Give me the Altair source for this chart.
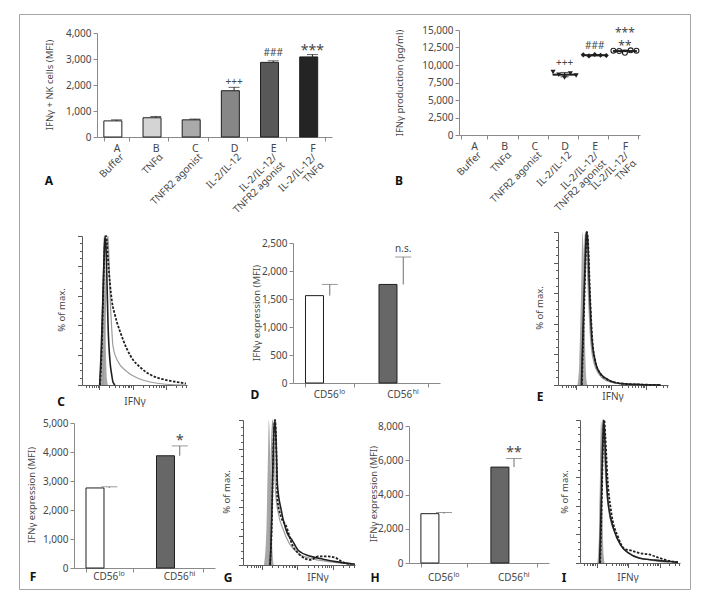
import altair as alt
import pandas as pd

FONT = "Noto Sans"
AXC = "#8a8a8a"
HAX = "#5a5a5a"
LBC = "#474747"
INK = "#1f1f1f"
ERRC = "#6e6e6e"
BORDER = "#a4a4a4"
ISO = "#a8a8a8"
GRAYLINE = "#9d9d9d"

# ---------------- Panel A ----------------
a_cat = ["A", "B", "C", "D", "E", "F"]
a_lab = ["Buffer", "TNFα", "TNFR2 agonist", "IL-2/IL-12",
         "IL-2/IL-12/\nTNFR2 agonist", "IL-2/IL-12/\nTNFα"]
a_mean = [620, 740, 660, 1780, 2870, 3080]
a_err = [40, 50, 30, 130, 60, 90]
a_fill = ["#ffffff", "#d4d4d4", "#aaaaaa", "#878787", "#585858", "#242424"]
a_sig = ["", "", "", "+++", "###", "***"]
a_sig_at = [0, 0, 0, 2130, 3250, 3440]
a_yticks = [0, 1000, 2000, 3000, 4000]

# ---------------- Panel B ----------------
b_grp = ["D"] * 5 + ["E"] * 5 + ["F"] * 5
b_rep = [0, 1, 2, 3, 4] * 3
b_val = [9000, 8600, 8200, 8800, 8500,
         11450, 11300, 11500, 11400, 11350,
         12050, 12000, 11750, 12100, 12050]
b_sig_cat = ["D", "E", "F", "F"]
b_sig = ["+++", "###", "**", "***"]
b_sig_at = [10300, 12700, 13150, 14950]
b_yticks = [0, 2500, 5000, 7500, 10000, 12500, 15000]

# ---------------- two-bar panels D, F, H ----------------
cd_grp = ["lo", "hi"]
cd_base = ["CD56", "CD56"]
cd_sup = ["lo", "hi"]
two_fill = ["#ffffff", "#676767"]
d_mean = [1560, 1760]
d_err = [200, 490]
d_sig = ["", "n.s."]
d_sig_at = [0, 2400]
d_yticks = [0, 500, 1000, 1500, 2000, 2500]
f_mean = [2760, 3870]
f_err = [40, 340]
f_sig = ["", "*"]
f_sig_at = [0, 4480]
f_yticks = [0, 1000, 2000, 3000, 4000, 5000]
h_mean = [2880, 5600]
h_err = [70, 500]
h_sig = ["", "**"]
h_sig_at = [0, 6600]
h_yticks = [0, 2000, 4000, 6000, 8000]

# ---------------- histogram axes ----------------
hx_domain = [3, 4300]
hx_major = [10, 100, 1000]
hx_minor = [4, 5, 6, 7, 8, 9, 20, 30, 40, 50, 60, 70, 80, 90,
            200, 300, 400, 500, 600, 700, 800, 900, 2000, 3000, 4000]
hy_major = [0, 20, 40, 60, 80, 100]
hy_minor = [5, 10, 15, 25, 30, 35, 45, 50, 55, 65, 70, 75, 85, 90, 95]

# ---------------- histogram curves (IFNγ, % of max.) ----------------
c_iso_x = [10.4, 11.2, 12.0, 12.8, 13.5, 14.2, 14.7, 15.8, 16.9, 18.1]
c_iso_y = [0, 10, 40, 80, 100, 85, 60, 20, 4, 0]
c_gray_x = [12.8, 13.7, 14.7, 15.8, 16.9, 18.1, 19.4, 20.8, 23.9, 25.6, 33.8, 67.6, 166, 332, 1000, 4000]
c_gray_y = [0, 15, 40, 70, 92, 100, 85, 62, 35, 26, 17, 9, 4, 2, 0.5, 0]
c_dash_x = [10.4, 11.2, 12.0, 12.8, 13.7, 14.7, 15.8, 16.9, 18.1, 20.8, 23.9, 29.4, 33.8, 41.6,
            67.6, 102, 166, 332, 538, 937, 2150, 4000]
c_dash_y = [0, 12, 30, 55, 80, 96, 100, 95, 85, 68, 56, 47, 42, 36, 24, 17, 12, 7, 5, 3.5, 2, 1]
c_solid_x = [10.2, 11.2, 12.0, 12.8, 13.7, 14.7, 15.8, 16.9, 18.1, 20.8, 23.4, 25.6, 29.4]
c_solid_y = [0, 20, 40, 60, 82, 100, 92, 70, 42, 16, 7, 2, 0]

e_iso_x = [10.8, 12.3, 13.6, 15.1, 16.1, 17.3, 18.5, 19.7, 21.1]
e_iso_y = [0, 15, 55, 100, 90, 45, 15, 3, 0]
e_gray_x = [13.5, 15.1, 17.3, 18.5, 19.7, 22.5, 26, 32, 45, 72, 180, 700]
e_gray_y = [0, 40, 88, 100, 92, 58, 30, 15, 7, 3, 0.8, 0]
e_dash_x = [14.5, 16.6, 19, 20.3, 21.8, 24.8, 28.5, 35, 49, 78, 190, 700, 2680]
e_dash_y = [0, 45, 88, 100, 94, 60, 32, 16, 7.5, 3.5, 1, 0.3, 0]
e_solid_x = [14.1, 16.1, 18.5, 19.7, 21.1, 24.1, 27.6, 33.8, 47.3, 75.8, 182, 698, 2680]
e_solid_y = [0, 45, 88, 100, 96, 62, 33, 17, 8, 4, 1, 0.3, 0]

g_iso_x = [11.7, 13.7, 15.0, 16.0, 17.4, 18.8, 20.5, 22.1]
g_iso_y = [0, 25, 70, 100, 80, 35, 8, 0]
g_gray_x = [16.0, 17.4, 19.0, 20.5, 22.1, 25, 30, 40, 60, 109, 300, 1000, 4300]
g_gray_y = [0, 30, 80, 100, 85, 50, 35, 25, 15, 8, 4, 2, 0.5]
g_dash_x = [17.4, 19.5, 21, 22.5, 24, 25.5, 28.1, 35.7, 49.1, 73.1, 109, 242, 391, 684, 1196, 1933, 3383]
g_dash_y = [0, 30, 70, 95, 100, 90, 45, 33, 27, 14, 8, 3.5, 6, 6, 5, 2, 0.5]
g_solid_x = [17.4, 18.8, 20.5, 22.1, 23.9, 26, 28.1, 35.7, 53.1, 73.1, 109, 242, 539, 1521, 4300]
g_solid_y = [0, 20, 60, 90, 100, 80, 55, 38, 22, 17, 10, 6, 4, 2, 0.5]

i_iso_x = [10.7, 12.0, 13.0, 13.8, 14.5, 15.5, 16.8, 18.0]
i_iso_y = [0, 20, 70, 100, 80, 30, 5, 0]
i_gray_x = [12.0, 13.4, 14.5, 15.5, 17.0, 20, 25, 40, 70, 150, 500, 2000]
i_gray_y = [0, 50, 90, 100, 85, 55, 35, 20, 10, 5, 2, 0.5]
i_dash_x = [13.0, 14.5, 16.0, 17.5, 19.0, 22.0, 28.4, 48.0, 75.2, 127, 215, 454, 961, 2032, 3700]
i_dash_y = [0, 40, 85, 100, 88, 60, 37, 18, 10, 8.6, 7, 6, 3.5, 1.4, 0.7]
i_solid_x = [12.5, 14.0, 15.5, 16.8, 18.0, 19.5, 22.7, 35.6, 60.1, 101, 215, 711, 2032, 3700]
i_solid_y = [0, 40, 80, 100, 90, 70, 44, 23, 12, 7, 3.5, 2, 1, 0.5]

# ---------------- layout: whole figure is one framed view ----------------
W_ALL, H_ALL = 671, 575
# plot rectangles in view pixels: (x0, x1, ytop, ybottom)
GEO = {
    "A": (78, 313, 19, 123),
    "B": (440, 621, 16, 121),
    "C": (63, 168, 222, 371),
    "D": (274, 421, 229, 369),
    "E": (539, 649, 218, 371),
    "F": (55, 196, 409, 554),
    "G": (224, 336, 406, 551),
    "H": (390, 530, 412, 549),
    "I": (561, 661, 406, 549),
}
# text anchors in view pixels: y-title (x, y), panel letter (x, y), x-title / category label (x, y)
TPOS = {
    "A": ((31, 71), (30, 167), None),
    "B": ((381, 69), (380, 167), None),
    "C": ((43, 296), (42, 388), (116, 388)),
    "D": ((238, 299), (236, 381), (None, 381)),
    "E": ((521, 294), (521, 383), (594, 383)),
    "F": ((13, 481), (14, 563), (None, 563)),
    "G": ((208, 478), (209, 564), (299, 564)),
    "H": ((355, 480), (356, 564), (None, 564)),
    "I": ((546, 478), (545, 564), (609, 564)),
}

ONE = pd.DataFrame({"k": [0]})


def txt(text, xy, size=9.5, angle=0, weight="normal", color=LBC):
    return alt.Chart(ONE).mark_text(
        text=text, fontSize=size, angle=angle, fontWeight=weight, color=color,
        align="center", baseline="middle", font=FONT
    ).encode(x=alt.value(xy[0]), y=alt.value(xy[1]))


def letter(key):
    return txt(key, TPOS[key][1], size=12, weight="bold", color="#111111")


def yaxis(vals, x0):
    return alt.Axis(orient="left", offset=-x0, values=vals, format=",.0f", title=None, tickSize=4,
                    labelPadding=2, labelFontSize=10, labelColor=LBC, domainColor=AXC,
                    tickColor=AXC, grid=False)


def band_axis(labels, ybot):
    return alt.Axis(orient="bottom", offset=ybot - H_ALL, title=None, tickBand="extent",
                    labels=labels, labelAngle=0, tickSize=4, labelPadding=2, labelFontSize=10.5,
                    labelColor=LBC, domainColor=AXC, tickColor=AXC, grid=False)


def rotated_labels(df, X, ybot):
    one = df[~df["two"]]
    two = df[df["two"]]
    l1 = alt.Chart(one).mark_text(angle=315, align="right", baseline="top", fontSize=10,
                                  color=LBC, dx=3).encode(x=X, y=alt.value(ybot + 17), text="lab:N")
    l2 = alt.Chart(two).mark_text(angle=315, align="right", baseline="top", fontSize=10,
                                  color=LBC, lineBreak="\n", lineHeight=11, dx=-2).encode(
        x=X, y=alt.value(ybot + 14), text="lab:N")
    return [l1, l2]


# ---------------- Panel A ----------------
def panel_A():
    x0, x1, yt, yb = GEO["A"]
    df = pd.DataFrame({"cat": a_cat, "lab": a_lab, "m": a_mean, "e": a_err,
                       "sig": a_sig, "sy": a_sig_at})
    df["top"] = df["m"] + df["e"]
    df["two"] = df["lab"].str.contains("\n")
    xs = alt.Scale(domain=a_cat, range=[x0, x1], paddingInner=0.35, paddingOuter=0.175)
    X = alt.X("cat:N", scale=xs, axis=band_axis(True, yb))
    ys = alt.Scale(domain=[0, 4000], range=[yb, yt], nice=False)
    yax = yaxis(a_yticks, x0)
    base = alt.Chart(df)
    bars = base.mark_bar(stroke=INK, strokeWidth=1).encode(
        x=X, y=alt.Y("m:Q", scale=ys, axis=yax),
        fill=alt.Fill("cat:N", scale=alt.Scale(domain=a_cat, range=a_fill), legend=None))
    err = base.mark_rule(color=INK, strokeWidth=1).encode(
        x=X, y=alt.Y("m:Q", scale=ys, axis=yax), y2="top:Q")
    cap = base.mark_tick(color=INK, thickness=1, size=11).encode(
        x=X, y=alt.Y("top:Q", scale=ys, axis=yax))
    sig1 = base.transform_filter("datum.sig == '+++' || datum.sig == '###'").mark_text(
        fontSize=10, color=LBC).encode(x=X, y=alt.Y("sy:Q", scale=ys, axis=yax), text="sig:N")
    sig2 = base.transform_filter("datum.sig == '***'").mark_text(
        fontSize=14, color=LBC, dy=3).encode(x=X, y=alt.Y("sy:Q", scale=ys, axis=yax), text="sig:N")
    layers = [bars, err, cap, sig1, sig2] + rotated_labels(df, X, yb) + [
        txt("IFNγ + NK cells (MFI)", TPOS["A"][0], angle=270), letter("A")]
    return alt.layer(*layers)


# ---------------- Panel B ----------------
def panel_B():
    x0, x1, yt, yb = GEO["B"]
    df = pd.DataFrame({"cat": b_grp, "i": b_rep, "val": b_val})
    labdf = pd.DataFrame({"cat": a_cat, "lab": a_lab})
    labdf["two"] = labdf["lab"].str.contains("\n")
    sigdf = pd.DataFrame({"cat": b_sig_cat, "sig": b_sig, "sy": b_sig_at})
    xs = alt.Scale(domain=a_cat, range=[x0, x1], paddingInner=0.12, paddingOuter=0.06)
    X = alt.X("cat:N", scale=xs, axis=band_axis(True, yb))
    ys = alt.Scale(domain=[0, 15000], range=[yb, yt], nice=False)
    yax = yaxis(b_yticks, x0)
    Y = alt.Y("val:Q", scale=ys, axis=yax)
    XO = alt.XOffset("i:O", scale=alt.Scale(paddingOuter=0.3))
    base = alt.Chart(df)
    tri = base.transform_filter(alt.datum.cat == "D").mark_point(
        shape="triangle-down", filled=True, color=INK, size=26, opacity=1).encode(x=X, xOffset=XO, y=Y)
    dia = base.transform_filter(alt.datum.cat == "E").mark_point(
        shape="diamond", filled=True, color=INK, size=26, opacity=1).encode(x=X, xOffset=XO, y=Y)
    cir = base.transform_filter(alt.datum.cat == "F").mark_point(
        shape="circle", filled=True, fill="#ffffff", stroke=INK, strokeWidth=1.1, size=24,
        opacity=1).encode(x=X, xOffset=XO, y=Y)
    eb = base.mark_errorbar(extent="stdev", ticks={"size": 8}, color=INK, thickness=1.2).encode(x=X, y=Y)
    mean = base.mark_tick(color=INK, thickness=2, size=24).encode(
        x=X, y=alt.Y("mean(val):Q", scale=ys, axis=yax))
    s = alt.Chart(sigdf)
    sig1 = s.transform_filter("datum.sig == '+++' || datum.sig == '###'").mark_text(
        fontSize=10, color=LBC).encode(x=X, y=alt.Y("sy:Q", scale=ys, axis=yax), text="sig:N")
    sig2 = s.transform_filter("datum.sig == '**' || datum.sig == '***'").mark_text(
        fontSize=12, color=LBC, dy=3).encode(x=X, y=alt.Y("sy:Q", scale=ys, axis=yax), text="sig:N")
    layers = [eb, tri, dia, cir, mean, sig1, sig2] + rotated_labels(labdf, X, yb) + [
        txt("IFNγ production (pg/ml)", TPOS["B"][0], angle=270), letter("B")]
    return alt.layer(*layers)


# ---------------- two-bar panels ----------------
def panel_two(key, mean, err, ymax, yticks, sig, sig_at):
    x0, x1, yt, yb = GEO[key]
    lab_y = TPOS[key][2][1]
    df = pd.DataFrame({"g": cd_grp, "m": mean, "e": err, "base": cd_base, "sup": cd_sup,
                       "sig": sig, "sy": sig_at})
    df["top"] = df["m"] + df["e"]
    xs = alt.Scale(domain=cd_grp, range=[x0, x1], paddingInner=0.34, paddingOuter=0.17)
    X = alt.X("g:N", scale=xs, axis=band_axis(False, yb))
    ys = alt.Scale(domain=[0, ymax], range=[yb, yt], nice=False)
    yax = yaxis(yticks, x0)
    base = alt.Chart(df)
    bars = base.mark_bar(stroke=INK, strokeWidth=1).encode(
        x=X, y=alt.Y("m:Q", scale=ys, axis=yax),
        fill=alt.Fill("g:N", scale=alt.Scale(domain=cd_grp, range=two_fill), legend=None))
    erule = base.mark_rule(color=ERRC, strokeWidth=1).encode(
        x=X, y=alt.Y("m:Q", scale=ys, axis=yax), y2="top:Q")
    cap = base.mark_tick(color=ERRC, thickness=1, size=16).encode(
        x=X, y=alt.Y("top:Q", scale=ys, axis=yax))
    sig_ns = base.transform_filter("datum.sig == 'n.s.'").mark_text(
        fontSize=10, color=LBC).encode(x=X, y=alt.Y("sy:Q", scale=ys, axis=yax), text="sig:N")
    sig_st = base.transform_filter("datum.sig == '*' || datum.sig == '**'").mark_text(
        fontSize=14, color=LBC, dy=3).encode(x=X, y=alt.Y("sy:Q", scale=ys, axis=yax), text="sig:N")
    lab_b = base.mark_text(align="right", baseline="middle", fontSize=10, color=LBC, dx=9).encode(
        x=X, y=alt.value(lab_y), text="base:N")
    lab_s = base.mark_text(align="left", baseline="middle", fontSize=7, color=LBC, dx=9.5, dy=-3).encode(
        x=X, y=alt.value(lab_y), text="sup:N")
    layers = [bars, erule, cap, sig_ns, sig_st, lab_b, lab_s,
              txt("IFNγ expression (MFI)", TPOS[key][0], angle=270), letter(key)]
    return alt.layer(*layers)


# ---------------- histogram panels ----------------
def panel_hist(key, series):
    x0, x1, yt, yb = GEO[key]
    rows = []
    for s, xs_, ys_ in series:
        rows += [{"s": s, "v": a, "p": b} for a, b in zip(xs_, ys_)]
    df = pd.DataFrame(rows)
    xsc = alt.Scale(type="log", domain=hx_domain, range=[x0, x1], nice=False)
    ysc = alt.Scale(domain=[0, 100], range=[yb, yt], nice=False)
    ax_x_major = alt.Axis(orient="bottom", offset=yb - H_ALL, values=hx_major, tickSize=4.5,
                          labels=False, title=None, domainColor=HAX, tickColor=HAX, grid=False)
    ax_x_minor = alt.Axis(orient="bottom", offset=yb - H_ALL, values=hx_minor, tickSize=2.5,
                          labels=False, title=None, domain=False, tickColor=HAX, grid=False)
    ax_y_major = alt.Axis(orient="left", offset=-x0, values=hy_major, tickSize=4.5, labels=False,
                          title=None, domainColor=HAX, tickColor=HAX, grid=False)
    ax_y_minor = alt.Axis(orient="left", offset=-x0, values=hy_minor, tickSize=2.5, labels=False,
                          title=None, domain=False, tickColor=HAX, grid=False)
    base = alt.Chart(df)
    iso = base.transform_filter(alt.datum.s == "iso").mark_area(
        color=ISO, interpolate="monotone", opacity=1).encode(
        x=alt.X("v:Q", scale=xsc, axis=ax_x_major), y=alt.Y("p:Q", scale=ysc, axis=ax_y_major))
    gray = base.transform_filter(alt.datum.s == "gray").mark_line(
        color=GRAYLINE, strokeWidth=1.2, interpolate="monotone").encode(
        x=alt.X("v:Q", scale=xsc, axis=ax_x_minor), y=alt.Y("p:Q", scale=ysc, axis=ax_y_minor))
    dash = base.transform_filter(alt.datum.s == "dash").mark_line(
        color=INK, strokeWidth=1.8, strokeDash=[2.5, 1.5], interpolate="monotone").encode(
        x=alt.X("v:Q", scale=xsc, axis=None), y=alt.Y("p:Q", scale=ysc, axis=None))
    solid = base.transform_filter(alt.datum.s == "solid").mark_line(
        color=INK, strokeWidth=1.6, interpolate="monotone").encode(
        x=alt.X("v:Q", scale=xsc, axis=None), y=alt.Y("p:Q", scale=ysc, axis=None))
    layers = [iso, gray, dash, solid,
              txt("% of max.", TPOS[key][0], angle=270),
              txt("IFNγ", TPOS[key][2], size=10), letter(key)]
    return alt.layer(*layers).resolve_axis(x="independent", y="independent")


pA = panel_A()
pB = panel_B()
pC = panel_hist("C", [("iso", c_iso_x, c_iso_y), ("gray", c_gray_x, c_gray_y),
                      ("dash", c_dash_x, c_dash_y), ("solid", c_solid_x, c_solid_y)])
pD = panel_two("D", d_mean, d_err, 2500, d_yticks, d_sig, d_sig_at)
pE = panel_hist("E", [("iso", e_iso_x, e_iso_y), ("gray", e_gray_x, e_gray_y),
                      ("dash", e_dash_x, e_dash_y), ("solid", e_solid_x, e_solid_y)])
pF = panel_two("F", f_mean, f_err, 5000, f_yticks, f_sig, f_sig_at)
pG = panel_hist("G", [("iso", g_iso_x, g_iso_y), ("gray", g_gray_x, g_gray_y),
                      ("dash", g_dash_x, g_dash_y), ("solid", g_solid_x, g_solid_y)])
pH = panel_two("H", h_mean, h_err, 8000, h_yticks, h_sig, h_sig_at)
pI = panel_hist("I", [("iso", i_iso_x, i_iso_y), ("gray", i_gray_x, i_gray_y),
                      ("dash", i_dash_x, i_dash_y), ("solid", i_solid_x, i_solid_y)])

chart = alt.layer(pA, pB, pC, pD, pE, pF, pG, pH, pI).resolve_scale(
    x="independent", y="independent", fill="independent"
).resolve_axis(x="independent", y="independent").properties(
    width=W_ALL, height=H_ALL,
    padding={"left": 11, "top": 6, "right": 2, "bottom": 2}
).configure(font=FONT).configure_view(stroke=BORDER, strokeWidth=1).configure_axis(
    labelFont=FONT, titleFont=FONT, grid=False
).configure_text(font=FONT)

chart.save("out.html", embed_options={"renderer": "svg", "actions": False})
